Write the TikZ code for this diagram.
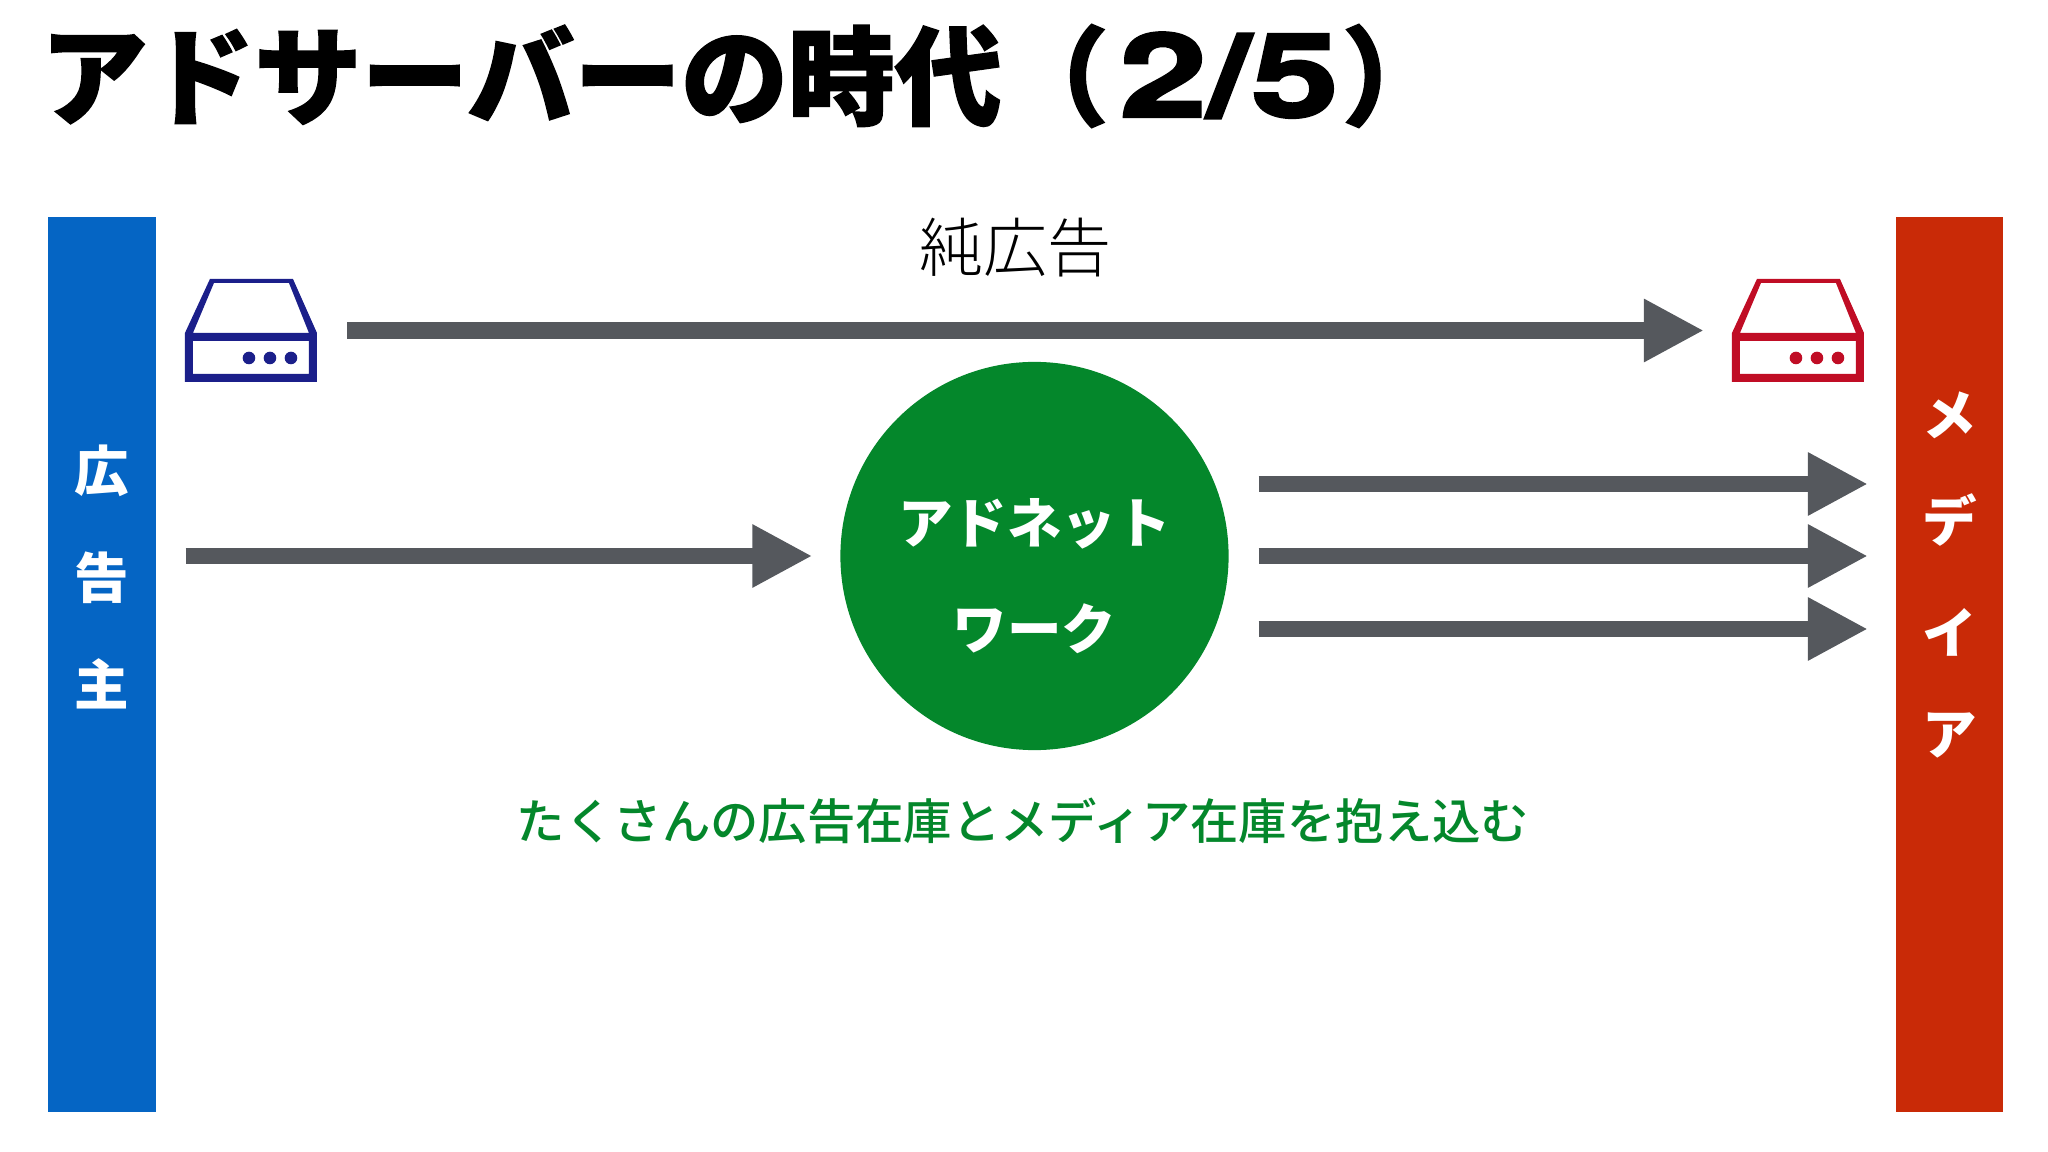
\documentclass[tikz,border=0pt]{standalone}
\usepackage{fontspec}
\setmainfont{Noto Sans CJK JP}
\newfontfamily\headfont[FakeBold=1.5]{Noto Sans CJK JP Black}
\newfontfamily\headlatin[FakeBold=2.5,FakeStretch=1.36]{TeX Gyre Heros Bold}
\newfontfamily\heavyfont{Noto Sans CJK JP Black}
\newfontfamily\thinfont{Noto Sans CJK JP Light}
\newfontfamily\midfont{Noto Sans CJK JP Medium}
\usetikzlibrary{arrows.meta,positioning,calc}
\definecolor{advblue}{HTML}{0565C4}
\definecolor{medred}{HTML}{C92A07}
\definecolor{netgreen}{HTML}{04872B}
\definecolor{flowgray}{HTML}{55585D}
\definecolor{srvnavy}{HTML}{1B1F8A}
\definecolor{srvred}{HTML}{C00D25}
\tikzset{sidebar/.style={minimum width=1.07cm,minimum height=8.95cm,inner sep=0pt,outer sep=0pt},
	barlabel/.style={text=white,align=center,font=\fontsize{15.5}{30.3}\selectfont\heavyfont,inner sep=0pt},
	flow/.style={line width=.16cm,flowgray,-{Triangle[length=.6cm,width=.59cm]},shorten <=.3cm,shorten >=.28cm},
	srvbox/.style={minimum width=1.32cm,minimum height=1.03cm,inner sep=0pt,outer sep=0pt}}

\begin{document}
\begin{tikzpicture}[x=0.01cm,y=-0.01cm]
		\useasboundingbox (0,0) rectangle (2048,1152);
		\node[anchor=west,inner sep=0pt] (title) at (40,76) {\fontsize{30.4}{30}\selectfont\headfont アドサーバーの時代（\kern.1em{\fontsize{33}{30}\selectfont\headlatin 2/5}\kern.03em ）};
		\node[sidebar,fill=advblue] (adv) at (102,664.5) {};
		\node[sidebar,fill=medred] (med) at (1949.5,664.5) {};
		\node[barlabel] (advlabel) at (102,577) {広\\告\\主};
		\node[barlabel] (medlabel) at (1949.5,575) {メ\\デ\\\raisebox{-.05cm}{イ}\\ア};
		\node[srvbox] (advsrv) at (251,330.5) {};
		\node[srvbox] (medsrv) at (1798,330.5) {};
		% server icons
		\foreach \n/\c in {advsrv/srvnavy,medsrv/srvred}{
			\begin{scope}[shift={(\n.north west)}]
				\fill[\c,even odd rule] (0,54) -- (25,0) -- (108,0) -- (132,54) -- (132,103) -- (0,103) -- cycle
					(8,54) -- (29,4) -- (104,4) -- (124,54) -- cycle
					(8,62) -- (124,62) -- (124,95) -- (8,95) -- cycle;
				\foreach \d in {64,85,106}
					\fill[\c] (\d,79) circle (6.3);
			\end{scope}
		}
		\node[circle,fill=netgreen,minimum size=3.88cm,inner sep=0pt,outer sep=0pt] (net) at (1034.5,556) {};
		\node[barlabel] (netlabel) at (1034.5,576) {アドネット\\ワーク};
		\node (purelabel) at (1015,248) {\fontsize{18.2}{18}\selectfont\thinfont 純広告};
		\node[netgreen] (stocklabel) at (1023,821) {\fontsize{13.75}{14}\selectfont\midfont たくさんの広告在庫とメディア在庫を抱え込む};
		\draw[flow] (advsrv.east) -- (medsrv.west);
		\draw[flow] (adv.east |- net.west) -- (net.west);
		\foreach \y in {484,556,629}
			\draw[flow] (net.east |- 0,\y) -- (med.west |- 0,\y);
\end{tikzpicture}
\end{document}
